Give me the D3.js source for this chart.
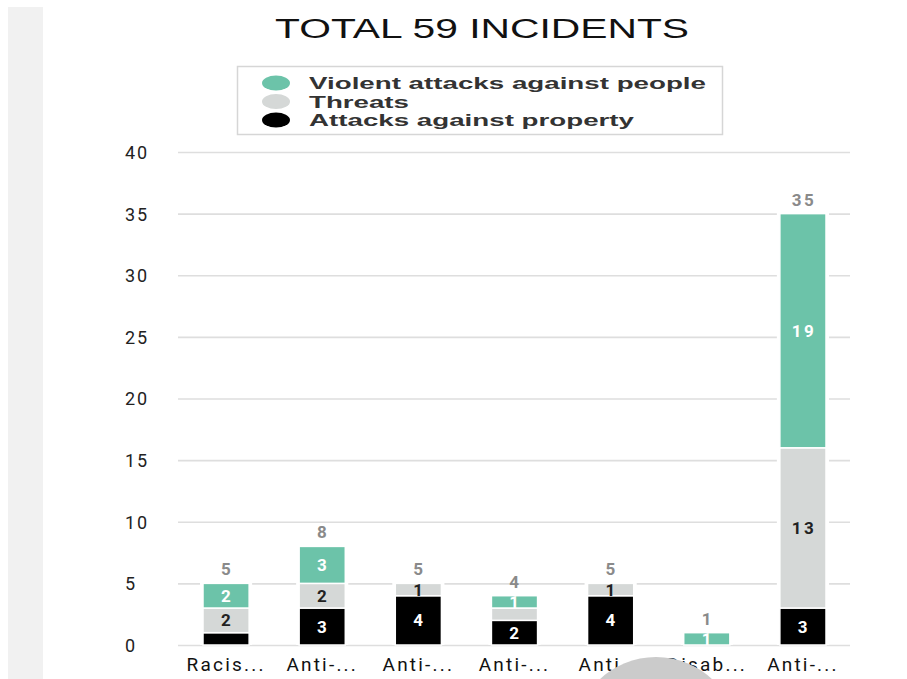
<!DOCTYPE html>
<html>
<head>
<meta charset="utf-8">
<script src="https://cdn.jsdelivr.net/npm/d3@7"></script>
<style>
  body { margin: 0; background: #fff; }
  svg { display: block; }
</style>
</head>
<body>
<div id="chart"></div>
<script>
// values
var categories = ["Racism", "Anti-Muslim", "Anti-Semitism", "Anti-Roma", "Anti-Migrant", "Disability", "Anti-LGBT"];
var shortLabels = ["Racis...", "Anti-...", "Anti-...", "Anti-...", "Anti...", "Disab...", "Anti-..."];
var property = [1, 3, 4, 2, 4, 0, 3];
var threats  = [2, 2, 1, 1, 1, 0, 13];
var violent  = [2, 3, 0, 1, 0, 1, 19];
var seriesNames = ["Violent attacks against people", "Threats", "Attacks against property"];
var yTicks = [0, 5, 10, 15, 20, 25, 30, 35, 40];
// segment labels left out in the original ("series:index")
var hiddenLabels = ["property:0", "threats:3"];

var colors = { violent: "#6cc3a9", threats: "#d5d8d7", property: "#000000" };
var labelColors = { violent: "#ffffff", threats: "#222222", property: "#ffffff" };

const W = 907, H = 679;
const margin = {top: 152, left: 178, right: 57, bottom: 34};
const width = W - margin.left - margin.right,
      height = H - margin.top - margin.bottom;

const svg = d3.select("#chart").append("svg")
  .attr("width", W).attr("height", H);

// grey strip on the left of the screenshot
svg.append("rect").attr("x", 8).attr("y", 7).attr("width", 35).attr("height", H - 7)
  .attr("fill", "#f1f1f1");

// title
svg.append("text")
  .attr("x", 482).attr("y", 38)
  .attr("text-anchor", "middle")
  .attr("font-family", "Liberation Sans, Arial, sans-serif")
  .attr("font-size", 27)
  .attr("fill", "#111")
  .attr("textLength", 414).attr("lengthAdjust", "spacingAndGlyphs")
  .text("TOTAL 59 INCIDENTS");

// legend
const legend = svg.append("g");
legend.append("rect").attr("x", 237.5).attr("y", 66.5).attr("width", 485).attr("height", 68)
  .attr("fill", "#fff").attr("stroke", "#d6d6d6").attr("stroke-width", 1.5);
const legendKeys = ["violent", "threats", "property"];
const legendLen = [397, 100, 325];
legendKeys.forEach(function(k, i) {
  const cy = 83 + i * 18.5;
  legend.append("ellipse").attr("cx", 276).attr("cy", cy).attr("rx", 14).attr("ry", 7.5)
    .attr("fill", colors[k]);
  legend.append("text").attr("x", 309).attr("y", cy + 6)
    .attr("font-family", "Liberation Sans, Arial, sans-serif")
    .attr("font-weight", "bold").attr("font-size", 17).attr("fill", "#333")
    .attr("textLength", legendLen[i]).attr("lengthAdjust", "spacingAndGlyphs")
    .text(seriesNames[i]);
});

const g = svg.append("g").attr("transform", `translate(${margin.left},${margin.top})`);

const x = d3.scaleBand()
  .domain(d3.range(categories.length))
  .range([0, width + 1])
  .paddingInner(0.52)
  .paddingOuter(0.26);

// 0 sits at y=645, 40 at y=152
const y = d3.scaleLinear().domain([0, 40]).range([height, 0]);

// grid + y labels
const yAxis = g.append("g")
  .call(d3.axisLeft(y).tickValues(yTicks).tickSize(-width).tickPadding(0));
yAxis.select(".domain").remove();
yAxis.selectAll(".tick line").attr("stroke", "#dedede").attr("stroke-width", 1.6);
yAxis.selectAll(".tick text")
  .attr("x", -53).attr("dy", "0.36em")
  .attr("text-anchor", "start")
  .attr("font-family", "Roboto, sans-serif")
  .attr("font-size", 18).attr("fill", "#222")
  .attr("letter-spacing", 2);

// stack
const rows = categories.map(function(c, i) {
  return { i: i, property: property[i], threats: threats[i], violent: violent[i] };
});
const stack = d3.stack().keys(["property", "threats", "violent"])(rows);

// white backing so the grid stops short of the bars
g.append("g").selectAll("rect").data(rows).join("rect")
  .attr("x", d => x(d.i) - 3)
  .attr("width", x.bandwidth() + 6)
  .attr("y", d => y(d.property + d.threats + d.violent) - 1)
  .attr("height", d => y(0) - y(d.property + d.threats + d.violent) + 1)
  .attr("fill", "#fff");

stack.forEach(function(layer) {
  const key = layer.key;
  const lg = g.append("g");
  const segs = layer.filter(d => d[1] - d[0] > 0);
  lg.selectAll("rect").data(segs).join("rect")
    .attr("x", d => x(d.data.i))
    .attr("width", x.bandwidth())
    .attr("y", d => y(d[1]))
    .attr("height", d => y(d[0]) - y(d[1]))
    .attr("fill", colors[key])
    .attr("stroke", "#fff").attr("stroke-width", 1.5);
  lg.selectAll("text").data(segs.filter(d => hiddenLabels.indexOf(key + ":" + d.data.i) < 0)).join("text")
    .attr("x", d => x(d.data.i) + x.bandwidth() / 2 + 1)
    .attr("y", d => (y(d[0]) + y(d[1])) / 2 + 6)
    .attr("text-anchor", "middle")
    .attr("font-family", "Roboto, sans-serif")
    .attr("font-weight", "bold").attr("font-size", 17)
    .attr("letter-spacing", 2.5)
    .attr("fill", labelColors[key])
    .text(d => d[1] - d[0]);
});

// totals
g.append("g").selectAll("text").data(rows).join("text")
  .attr("x", d => x(d.i) + x.bandwidth() / 2 + 1)
  .attr("y", d => y(d.property + d.threats + d.violent) - 8)
  .attr("text-anchor", "middle")
  .attr("font-family", "Roboto, sans-serif")
  .attr("font-weight", "bold").attr("font-size", 17)
  .attr("letter-spacing", 2.5)
  .attr("fill", "#8a8a8a")
  .text(d => d.property + d.threats + d.violent);

// x labels
const xAxis = g.append("g").attr("transform", `translate(0,${y(0)})`)
  .call(d3.axisBottom(x).tickSize(0).tickPadding(0).tickFormat(i => shortLabels[i]));
xAxis.select(".domain").remove();
xAxis.selectAll(".tick text")
  .attr("dy", 26)
  .attr("font-family", "Roboto, sans-serif")
  .attr("font-size", 19).attr("fill", "#111")
  .attr("letter-spacing", 2.2);

// grey circle overlapping the bottom (screenshot artefact)
svg.append("circle").attr("cx", 656).attr("cy", 739).attr("r", 82).attr("fill", "#cbcbcb");
</script>
</body>
</html>
